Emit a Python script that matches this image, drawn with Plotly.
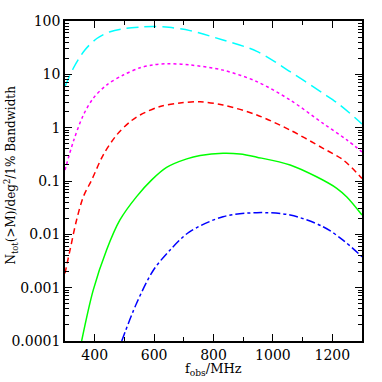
import plotly.graph_objects as go

# observed frequency (MHz) and cumulative counts per deg^2 per 1% bandwidth
f_cyan = [300, 328, 367, 407, 452, 508, 553, 596, 650, 721, 832, 946, 1058, 1169, 1226, 1300]
n_cyan = [5.9, 13, 28.6, 47, 63, 73, 77, 79, 76, 66, 44, 27, 11.2, 4.4, 2.66, 1.17]

f_magenta = [300, 328, 362, 395, 440, 496, 553, 596, 643, 721, 832, 946, 1058, 1169, 1249, 1300]
n_magenta = [0.16, 0.55, 1.73, 3.55, 6.3, 9.7, 13.3, 15, 15.8, 15, 12, 7.3, 3.3, 1.2, 0.59, 0.35]

f_red = [300, 317, 339, 362, 390, 429, 474, 519, 553, 620, 687, 755, 832, 946, 1058, 1169, 1236, 1300]
n_red = [0.00186, 0.0051, 0.0186, 0.051, 0.105, 0.31, 0.73, 1.29, 1.73, 2.5, 2.9, 3.05, 2.66, 1.73, 0.9, 0.41, 0.25, 0.112]

f_green = [356, 395, 440, 485, 541, 592, 642, 710, 755, 832, 889, 946, 1058, 1147, 1215, 1249, 1300]
n_green = [0.0001, 0.0009, 0.0051, 0.0186, 0.051, 0.105, 0.18, 0.26, 0.30, 0.33, 0.32, 0.28, 0.2, 0.12, 0.073, 0.05, 0.023]

f_blue = [491, 541, 597, 654, 718, 832, 946, 1058, 1169, 1236, 1300]
n_blue = [0.0001, 0.00051, 0.0021, 0.0051, 0.011, 0.0214, 0.0255, 0.023, 0.0139, 0.0078, 0.0038]

y_ticks = [100, 10, 1, 0.1, 0.01, 0.001, 0.0001]
y_labels = ["100", "10", "1", "0.1", "0.01", "0.001", "0.0001"]

series = [
    (f_cyan, n_cyan, "#00FFFF", "12px,6px"),
    (f_magenta, n_magenta, "#FF00FF", "dot"),
    (f_red, n_red, "#FF0000", "6px,4px"),
    (f_green, n_green, "#00FF00", "solid"),
    (f_blue, n_blue, "#0000FF", "dashdot"),
]

fig = go.Figure()
for fx, ny, col, dash in series:
    fig.add_trace(go.Scatter(
        x=fx, y=ny, mode="lines", line_shape="spline",
        line=dict(color=col, width=1.5, dash=dash, smoothing=0.9),
        showlegend=False
    ))

minor_y = [m * 10.0 ** k for k in range(-4, 2) for m in range(2, 10)]

fig.update_layout(
    width=382, height=382,
    margin=dict(l=65, r=20, t=21, b=41),
    plot_bgcolor="white", paper_bgcolor="white",
    font=dict(family="DejaVu Serif", size=14, color="black"),
)
fig.update_xaxes(
    range=[300, 1300], tick0=400, dtick=200,
    ticks="inside", ticklen=7, tickwidth=1, tickcolor="black",
    minor=dict(dtick=100, ticks="inside", ticklen=4, tickcolor="black"),
    showline=True, linecolor="black", linewidth=1.5, mirror="ticks",
    showgrid=False, zeroline=False, automargin=False,
)
fig.update_yaxes(
    type="log", range=[-4, 2],
    tickvals=y_ticks, ticktext=y_labels,
    ticks="inside", ticklen=7, tickwidth=1, tickcolor="black",
    minor=dict(tickvals=minor_y, ticks="inside", ticklen=4, tickcolor="black"),
    showline=True, linecolor="black", linewidth=1.5, mirror="ticks",
    showgrid=False, zeroline=False, automargin=False,
)

# axis titles as annotations so they sit where the reference has them
fig.add_annotation(
    text="f<sub>obs</sub>/MHz", xref="paper", yref="paper",
    x=0.5, y=-0.09, xanchor="center", yanchor="middle",
    showarrow=False, font=dict(size=13),
)
fig.add_annotation(
    text="N<sub>tot</sub>(>M)/deg<sup>2</sup>/1% Bandwidth", xref="paper", yref="paper",
    x=-0.182, y=0.52, xanchor="center", yanchor="middle", textangle=-90,
    showarrow=False, font=dict(size=12),
)

# drop the browser's default page margin so the figure starts at the corner
fig.write_html("out.html", config={"displayModeBar": False},
               post_script="document.body.style.margin='0';")
